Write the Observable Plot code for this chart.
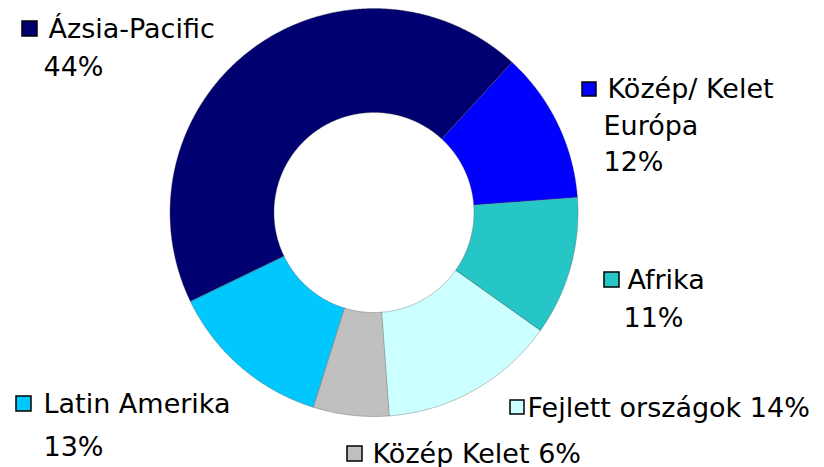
<!DOCTYPE html>
<html>
<head>
<meta charset="utf-8">
<script src="https://cdn.jsdelivr.net/npm/d3@7"></script>
<script src="https://cdn.jsdelivr.net/npm/@observablehq/plot@0.6"></script>
<style>
  html, body { margin: 0; padding: 0; background: #fff; }
  #chart svg { display: block; }
</style>
</head>
<body>
<div id="chart"></div>
<script>
// ---- data ----
const regions = ["Közép/ Kelet Európa", "Afrika", "Fejlett országok", "Közép Kelet", "Latin Amerika", "Ázsia-Pacific"];
const shares = [12, 11, 14, 6, 13, 44];
const regionLines = [["Közép/ Kelet", "Európa"], ["Afrika"], ["Fejlett országok"], ["Közép Kelet"], ["Latin Amerika"], ["Ázsia-Pacific"]];
// label text: which lines carry the percentage inline
const pctInline = [false, false, true, true, false, false];

// ---- styles / layout (not data) ----
const palette = ["#0000ff", "#26c6c6", "#ccffff", "#c0c0c0", "#00c8ff", "#000070"];
const W = 824, H = 467;
const cx = 373.5, cy = 212, outerR = 204, innerR = 100;
const startDeg = 42.6;
// per-label layout: legend square and baselines of each printed line
const labelLayout = [
  {sq: [582, 82, 596, 96], lines: [[607, 97], [603, 134], [603, 170]]},
  {sq: [604, 272, 619, 287], lines: [[627, 288], [623, 326]]},
  {sq: [510, 400, 524, 414], lines: [[527, 416]]},
  {sq: [347, 446, 362, 461], lines: [[372, 462]]},
  {sq: [16, 396, 31, 411], lines: [[43, 412], [43, 455]]},
  {sq: [22, 21, 37, 36], lines: [[48, 37], [43, 75]]}
];

// ---- build slice polygons from the shares ----
const table = regions.map((name, i) => ({name, share: shares[i]}));
const start = startDeg * Math.PI / 180;
const arcs = d3.pie().sort(null).value(d => d.share).startAngle(start).endAngle(start + 2 * Math.PI)(table);
const pts = [];
for (const a of arcs) {
  const n = Math.max(4, Math.ceil((a.endAngle - a.startAngle) / 0.005));
  for (let k = 0; k <= n; k++) {
    const t = a.startAngle + (a.endAngle - a.startAngle) * k / n;
    pts.push({name: a.data.name, x: cx + outerR * Math.sin(t), y: cy - outerR * Math.cos(t)});
  }
  for (let k = n; k >= 0; k--) {
    const t = a.startAngle + (a.endAngle - a.startAngle) * k / n;
    pts.push({name: a.data.name, x: cx + innerR * Math.sin(t), y: cy - innerR * Math.cos(t)});
  }
}

// ---- labels ----
const squares = regions.map((name, i) => {
  const [x1, y1, x2, y2] = labelLayout[i].sq;
  return {name, x1, y1, x2, y2};
});
const texts = [];
regions.forEach((name, i) => {
  const lines = regionLines[i].slice();
  const pct = shares[i] + "%";
  if (pctInline[i]) lines[lines.length - 1] += " " + pct;
  else lines.push(pct);
  lines.forEach((t, j) => {
    const [x, y] = labelLayout[i].lines[j];
    texts.push({x, y, text: t});
  });
});

const chart = Plot.plot({
  width: W,
  height: H,
  margin: 0,
  style: {background: "#fff"},
  x: {domain: [0, W], range: [0, W], axis: null},
  y: {domain: [0, H], range: [0, H], axis: null},
  color: {domain: regions, range: palette},
  marks: [
    Plot.line(pts, {x: "x", y: "y", z: "name", fill: "name", stroke: "#555", strokeWidth: 0.6, strokeOpacity: 0.6, curve: "linear-closed"}),
    Plot.rect(squares, {x1: "x1", x2: "x2", y1: "y1", y2: "y2", fill: "name", stroke: "#000", strokeWidth: 1.5}),
    Plot.text(texts, {x: "x", y: "y", text: "text", textAnchor: "start", lineAnchor: "bottom", fontSize: 27, fontFamily: "DejaVu Sans", fill: "#000"})
  ]
});
document.getElementById("chart").append(chart);
</script>
</body>
</html>
